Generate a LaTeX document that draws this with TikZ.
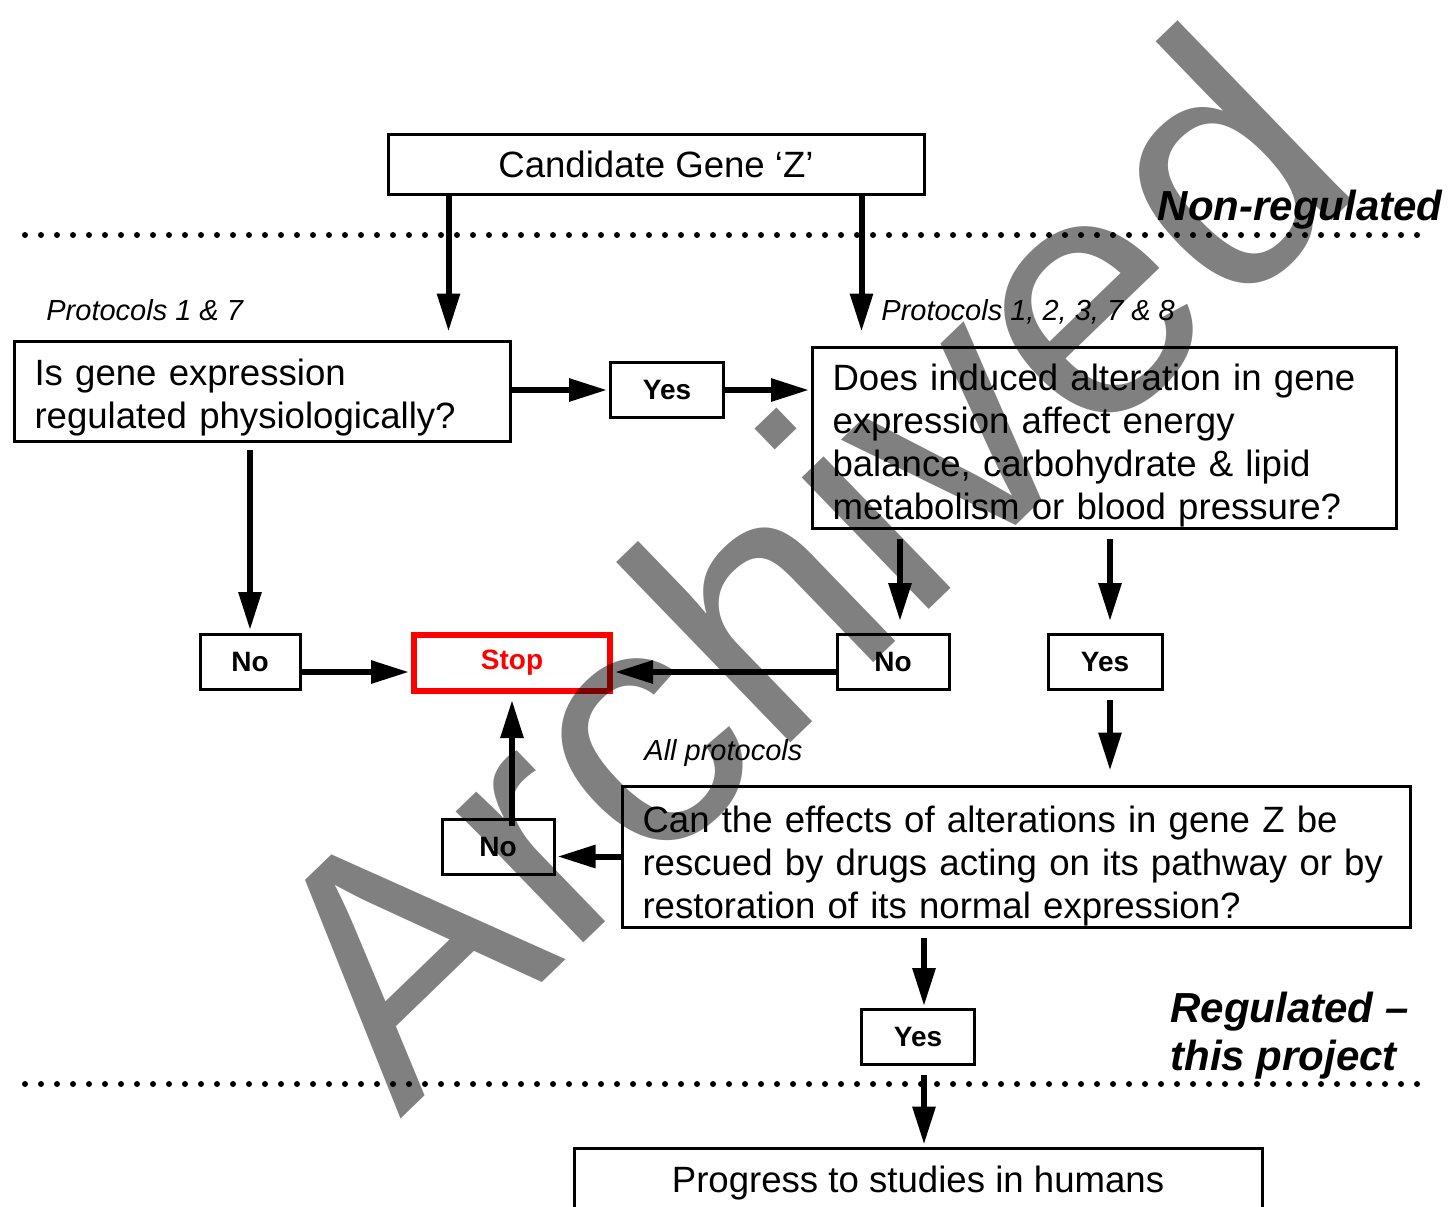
\documentclass[tikz,border=0pt]{standalone}
\usepackage{fontspec}
\setmainfont{Liberation Sans}
\usetikzlibrary{arrows.meta}
\tikzset{
  qbox/.style={draw, line width=1.5pt, align=left, inner xsep=10pt, inner ysep=0pt, font=\fontsize{18.3}{21.5}\selectfont},
  ans/.style={draw, line width=1.5pt, minimum height=27.5pt, font=\bfseries\fontsize{14}{16}\selectfont},
  proto/.style={anchor=base west, inner sep=0pt, font=\itshape\fontsize{14.5}{17}\selectfont},
  zone/.style={inner sep=0pt, align=left, font=\bfseries\itshape\fontsize{21}{24}\selectfont},
  flow/.style={line width=3pt, -{Triangle[length=19pt,width=11pt]}},
  dots/.style={line width=3pt, line cap=round, dash pattern=on 0pt off 8pt},
}
\newcommand{\topgap}[1]{\rule{0pt}{#1}}
\begin{document}
\begin{tikzpicture}[x=0.5pt, y=-0.5pt]
\useasboundingbox (0,0) rectangle (1449,1206);

\node (cand) [qbox, align=center, minimum width=268pt, minimum height=30pt] at (656,164) {Candidate Gene ‘Z’};
\node (q1) [qbox, text width=228pt, minimum height=50pt] at (262.5,391) {\topgap{20pt}Is gene expression\\regulated physiologically?};
\node (q2) [qbox, text width=272pt, minimum height=90.5pt] at (1104.5,437.5) {\topgap{21.5pt}Does induced alteration in gene\\expression affect energy\\balance, carbohydrate \& lipid\\metabolism or blood pressure?};
\node (q3) [qbox, text width=374pt, minimum height=70.5pt] at (1016.5,856.5) {\topgap{23pt}Can the effects of alterations in gene Z be\\rescued by drugs acting on its pathway or by\\restoration of its normal expression?};
\node (prog) [qbox, align=center, minimum width=344pt, minimum height=35pt] at (918,1183) {Progress to studies in humans};

\node (yes1) [ans, minimum width=56.5pt] at (667,390) {Yes};
\node (no1) [ans, minimum width=50pt] at (250,662) {No};
\node (stop) [draw=red, line width=3pt, text=red, minimum width=98pt, minimum height=28pt, font=\bfseries\fontsize{14}{16}\selectfont] at (512,663) {Stop};
\node (no2) [ans, minimum width=56pt] at (893,662) {No};
\node (yes2) [ans, minimum width=57pt] at (1105,662) {Yes};
\node (no3) [ans, minimum width=56pt] at (498,847) {No};
\node (yes3) [ans, minimum width=56.5pt] at (918,1037) {Yes};

\node (p17) [proto] at (46,320) {Protocols 1 \& 7};
\node (p12378) [proto] at (881,320) {Protocols 1, 2, 3, 7 \& 8};
\node (pall) [proto] at (644,760) {All protocols};
\node (nonreg) [zone, anchor=base east] at (1443,220) {Non-regulated};
\node (reg) [zone, anchor=base west] at (1170,1070) {Regulated –\\this project};

\coordinate (d1w) at (25,235);
\coordinate (d1e) at (1430,235);
\coordinate (d2w) at (25,1084);
\coordinate (d2e) at (1430,1084);
\draw[dots] (d1w) -- (d1e);
\draw[dots] (d2w) -- (d2e);

\draw[flow, shorten >=4pt] ([xshift=31pt]cand.south west) -- ([xshift=31pt]cand.south west |- q1.north);
\draw[flow, shorten >=7pt] ([xshift=-32pt]cand.south east) -- ([xshift=-32pt]cand.south east |- q2.north);
\draw[flow, shorten >=1pt] (q1.east |- yes1.west) -- (yes1.west);
\draw[flow, shorten >=1pt] (yes1.east) -- (yes1.east -| q2.west);
\draw[flow, shorten <=3.5pt, shorten >=1.5pt] (q1.south -| no1.north) -- (no1.north);
\draw[flow, shorten <=4.5pt, shorten >=6pt] ([xshift=3.5pt]q2.south -| no2.north) -- ([xshift=3.5pt]no2.north);
\draw[flow, shorten <=4.5pt, shorten >=6pt] ([xshift=2.5pt]q2.south -| yes2.north) -- ([xshift=2.5pt]yes2.north);
\draw[flow, shorten >=1pt] ([yshift=-5pt]no1.east) -- ([yshift=-5pt]no1.east -| stop.west);
\draw[flow, shorten >=1pt] ([yshift=-5pt]no2.west) -- ([yshift=-5pt]no2.west -| stop.east);
\draw[flow, shorten <=4.5pt, shorten >=7pt] ([xshift=2.5pt]yes2.south) -- ([xshift=2.5pt]yes2.south |- q3.north);
\draw[flow, shorten >=1pt] (q3.west) -- (q3.west -| no3.east);
\draw[flow, shorten <=-4pt, shorten >=3pt] (no3.north -| stop.south) -- (stop.south);
\draw[flow, shorten <=4.5pt, shorten >=1pt] ([xshift=3pt]q3.south -| yes3.north) -- ([xshift=3pt]yes3.north);
\draw[flow, shorten <=4.5pt, shorten >=1pt] ([xshift=3pt]yes3.south) -- ([xshift=3pt]yes3.south |- prog.north);

\begin{scope}[blend mode=multiply]
\node (wm) [anchor=base west, rotate=44, text=black!50, inner sep=0pt, font=\fontsize{173}{180}\selectfont] at (400,1120) {Archived};
\end{scope}
\end{tikzpicture}
\end{document}
